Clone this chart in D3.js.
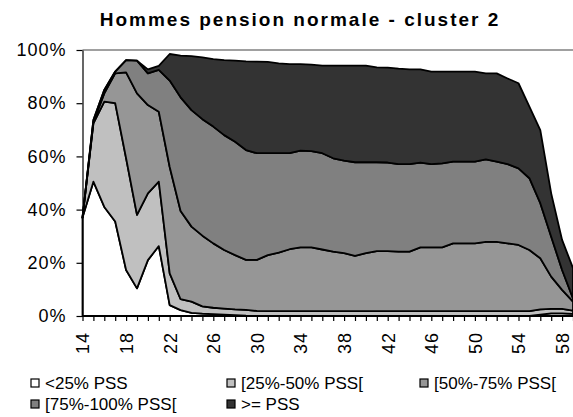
<!DOCTYPE html>
<html>
<head>
<meta charset="utf-8">
<script src="https://cdn.jsdelivr.net/npm/d3@7"></script>
<style>
  body { margin: 0; background: #fff; }
  svg { display: block; font-family: "Liberation Sans", Arial, sans-serif; }
</style>
</head>
<body>
<div class="chart"></div>
<script>
// ages (categories)
var ages = [14,15,16,17,18,19,20,21,22,23,24,25,26,27,28,29,30,31,32,33,34,35,36,
            37,38,39,40,41,42,43,44,45,46,47,48,49,50,51,52,53,54,55,56,57,58,59];

// share of each band, in %
var under25 = [37,50.5,41,35.5,17.3,10.4,21,26.3,4.1,2.2,1.2,0.9,0.7,0.5,0.3,0.1,
               0,0,0,0,0,0,0,0,0,0,0,0,0,0,0,0,0,0,0,0,0,0,0,0,0,0,0.5,1,1,0.8];
var p25to50 = [0,21.9,39.6,44.5,42,27.6,25.1,24.2,11.9,4.1,4.2,2.7,2.4,2.3,2.2,2.2,1.9,
               1.8,1.8,1.8,1.8,1.8,1.8,1.8,1.8,1.8,1.8,1.8,1.8,1.8,1.8,1.8,1.8,1.8,1.8,1.8,1.8,1.8,1.8,1.8,1.8,1.8,
               2,1.7,1.7,1.2];
var p50to75 = [0,0.6,3.1,11.2,32.3,45.7,33.2,26.3,40,33.2,28.2,26.6,24.2,22,20.4,18.8,19.2,
               21.1,22,23.3,24,24,23.2,22.4,21.8,20.8,21.8,22.6,22.6,22.4,22.4,24,24,24,25.5,25.5,25.5,
               26.1,26.1,25.5,24.9,23,19.2,12.1,7.1,3.4];
var p75to100 = [0,0.7,1.3,0.7,4.6,12.3,11.9,15.7,32.5,42.7,43.8,43.8,43.9,43.2,42.6,41.3,40.1,
               38.3,37.4,36.1,36.4,36.2,36.2,35.1,34.8,35.2,34.2,33.4,33.3,32.9,32.9,31.9,31.3,31.6,30.7,30.7,30.7,
               31,30.1,29.8,28.8,27,20.7,15,7.5,1.2];
var overPss = [0,0,0,0,0,0,1.5,1.5,10,15.7,20.3,23.2,25.4,28.2,30.5,33.3,34.4,
               34.3,33.8,33.5,32.5,32.5,32.9,34.8,35.7,36.3,36.3,35.7,35.7,35.9,35.6,35,34.8,34.5,33.9,33.9,33.9,
               32.3,33.2,32.2,32,26.9,27.5,16.3,11.3,11.4];

var seriesNames = ["<25% PSS", "[25%-50% PSS[", "[50%-75% PSS[", "[75%-100% PSS[", ">= PSS"];
var seriesColors = ["#ffffff", "#c0c0c0", "#969696", "#808080", "#333333"];
var yTicks = [0, 20, 40, 60, 80, 100];
var xLabels = [14,18,22,26,30,34,38,42,46,50,54,58];

var W = 573, H = 417;
var plotL = 82.5, plotR = 573, plotT = 50, plotB = 316;

var svg = d3.select(".chart").append("svg")
  .attr("width", W)
  .attr("height", H);

// build table for the stack
var table = ages.map(function(a, i) {
  return { age: a, s0: under25[i], s1: p25to50[i], s2: p50to75[i], s3: p75to100[i], s4: overPss[i] };
});
var keys = ["s0","s1","s2","s3","s4"];
var stacked = d3.stack().keys(keys)(table);

var x = d3.scalePoint().domain(ages).range([plotL, plotR]);
var y = d3.scaleLinear().domain([0, 100]).range([plotB, plotT]);

// top border of plot
svg.append("line")
  .attr("x1", plotL).attr("x2", plotR)
  .attr("y1", plotT).attr("y2", plotT)
  .style("stroke", "#808080")
  .style("stroke-width", 1.5);

var area = d3.area()
  .x(function(d) { return x(d.data.age); })
  .y0(function(d) { return y(d[0]); })
  .y1(function(d) { return y(d[1]); });

svg.selectAll(".layer")
  .data(stacked)
  .enter().append("path")
  .attr("class", "layer")
  .attr("d", area)
  .style("fill", function(d, i) { return seriesColors[i]; })
  .style("stroke", "#000")
  .style("stroke-width", 1.8)
  .style("stroke-linejoin", "round");

// y axis
var yAxis = d3.axisLeft(y)
  .tickValues(yTicks)
  .tickSize(6)
  .tickSizeOuter(0)
  .tickFormat(function(d) { return d + "%"; });

var gy = svg.append("g")
  .attr("transform", "translate(" + plotL + ",0)")
  .call(yAxis);
gy.selectAll("line, path").style("stroke", "#000").style("stroke-width", 1.2);
gy.selectAll("text")
  .attr("x", -16)
  .style("font-size", "18px")
  .style("letter-spacing", "1px")
  .style("fill", "#000");

// x axis
var xAxis = d3.axisBottom(x)
  .tickSize(5)
  .tickSizeOuter(0)
  .tickFormat(function(d) { return xLabels.indexOf(d) >= 0 ? d : ""; });

var gx = svg.append("g")
  .attr("transform", "translate(0," + plotB + ")")
  .call(xAxis);
gx.selectAll("line, path").style("stroke", "#000").style("stroke-width", 1.2);
gx.selectAll("text")
  .attr("transform", "rotate(-90)")
  .attr("x", -16)
  .attr("y", 0)
  .attr("dy", "0.35em")
  .style("text-anchor", "end")
  .style("font-size", "18px")
  .style("letter-spacing", "1px")
  .style("fill", "#000");

// title
svg.append("text")
  .attr("x", 300)
  .attr("y", 26)
  .style("text-anchor", "middle")
  .style("font-size", "19px")
  .style("font-weight", "bold")
  .style("letter-spacing", "2px")
  .text("Hommes pension normale - cluster 2");

// legend
var legendPos = [[31, 383], [227, 383], [420, 383], [31, 404], [227, 404]];
var leg = svg.selectAll(".leg")
  .data(seriesNames)
  .enter().append("g")
  .attr("class", "leg")
  .attr("transform", function(d, i) { return "translate(" + legendPos[i][0] + "," + legendPos[i][1] + ")"; });

leg.append("rect")
  .attr("x", 0).attr("y", -4)
  .attr("width", 8).attr("height", 8)
  .style("fill", function(d, i) { return seriesColors[i]; })
  .style("stroke", "#000")
  .style("stroke-width", 1.2);

leg.append("text")
  .attr("x", 14)
  .attr("dy", "0.35em")
  .style("font-size", "17px")
  .text(function(d) { return d; });
</script>
</body>
</html>
